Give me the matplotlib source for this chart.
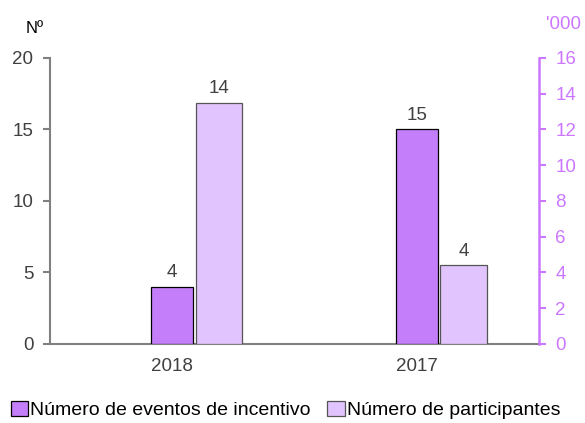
import matplotlib
matplotlib.use('Agg')
from matplotlib import pyplot as plt
import numpy as np

plt.rcParams['font.family'] = ['Liberation Sans', 'DejaVu Sans']

anos = ['2018', '2017']
eventos = [4, 15]
participantes = [13.5, 4.4]   # milhares
nome_eventos = 'Número de eventos de incentivo'
nome_participantes = 'Número de participantes'

cor_eventos = '#C47EFA'
cor_participantes = '#E1C4FD'
cor_dir = '#CC77FF'
cinza = '#808080'
texto = '#404040'
fs = 13.5

fig = plt.figure(figsize=(5.85, 4.23), dpi=100)
ax = fig.add_axes([0.0855, 0.187, 0.8355, 0.676])
ax2 = ax.twinx()

x = np.arange(len(anos))
largura = 0.172
b1 = ax.bar(x, eventos, largura, color=cor_eventos, edgecolor='black', linewidth=0.9, zorder=3)
b2 = ax2.bar(x + 0.192, participantes, 0.19, color=cor_participantes, edgecolor='#555555',
             linewidth=0.9, zorder=3)

for xi, v in zip(x, eventos):
    ax.annotate(f'{v}', (xi, v), xytext=(0, 4), textcoords='offset points',
                ha='center', va='bottom', fontsize=fs, color=texto)
for xi, v in zip(x, participantes):
    ax2.annotate(f'{v:.0f}', (xi + 0.192, v), xytext=(0, 4), textcoords='offset points',
                 ha='center', va='bottom', fontsize=fs, color=texto)

ax.set_xlim(-0.5, 1.5)
ax.set_ylim(0, 20)
ax.set_yticks([0, 5, 10, 15, 20])
ax2.set_ylim(0, 16)
ax2.set_yticks(range(0, 17, 2))
ax.set_xticks(x)
ax.set_xticklabels(anos)

for a in (ax, ax2):
    a.spines['top'].set_visible(False)
ax.spines['right'].set_visible(False)
ax2.spines['left'].set_visible(False)
ax2.spines['bottom'].set_visible(False)
ax.spines['left'].set_color(cinza)
ax.spines['left'].set_linewidth(1.5)
ax.spines['bottom'].set_color(cinza)
ax.spines['bottom'].set_linewidth(1.5)
ax2.spines['right'].set_color(cor_dir)
ax2.spines['right'].set_linewidth(1.8)

ax.tick_params(axis='x', length=0, pad=10, labelsize=fs, colors=texto)
ax.tick_params(axis='y', length=5, width=1.5, color=cinza, pad=7, labelsize=fs, labelcolor=texto)
ax2.tick_params(axis='y', length=5, width=1.5, color=cor_dir, pad=7, labelsize=fs, labelcolor=cor_dir)

fig.text(0.043, 0.933, 'Nº', fontsize=12, ha='left', va='center', color='black')
fig.text(0.933, 0.943, "'000", fontsize=fs, ha='left', va='center', color=cor_dir)

fig.legend([b1, b2], [nome_eventos, nome_participantes], loc='lower left',
           bbox_to_anchor=(0.012, 0.0), ncol=2, frameon=False, fontsize=14,
           borderaxespad=0, borderpad=0.2,
           handlelength=0.9, handleheight=0.85, handletextpad=0.1, columnspacing=0.85,
           labelcolor='black')

fig.savefig('out.png', dpi=100)
